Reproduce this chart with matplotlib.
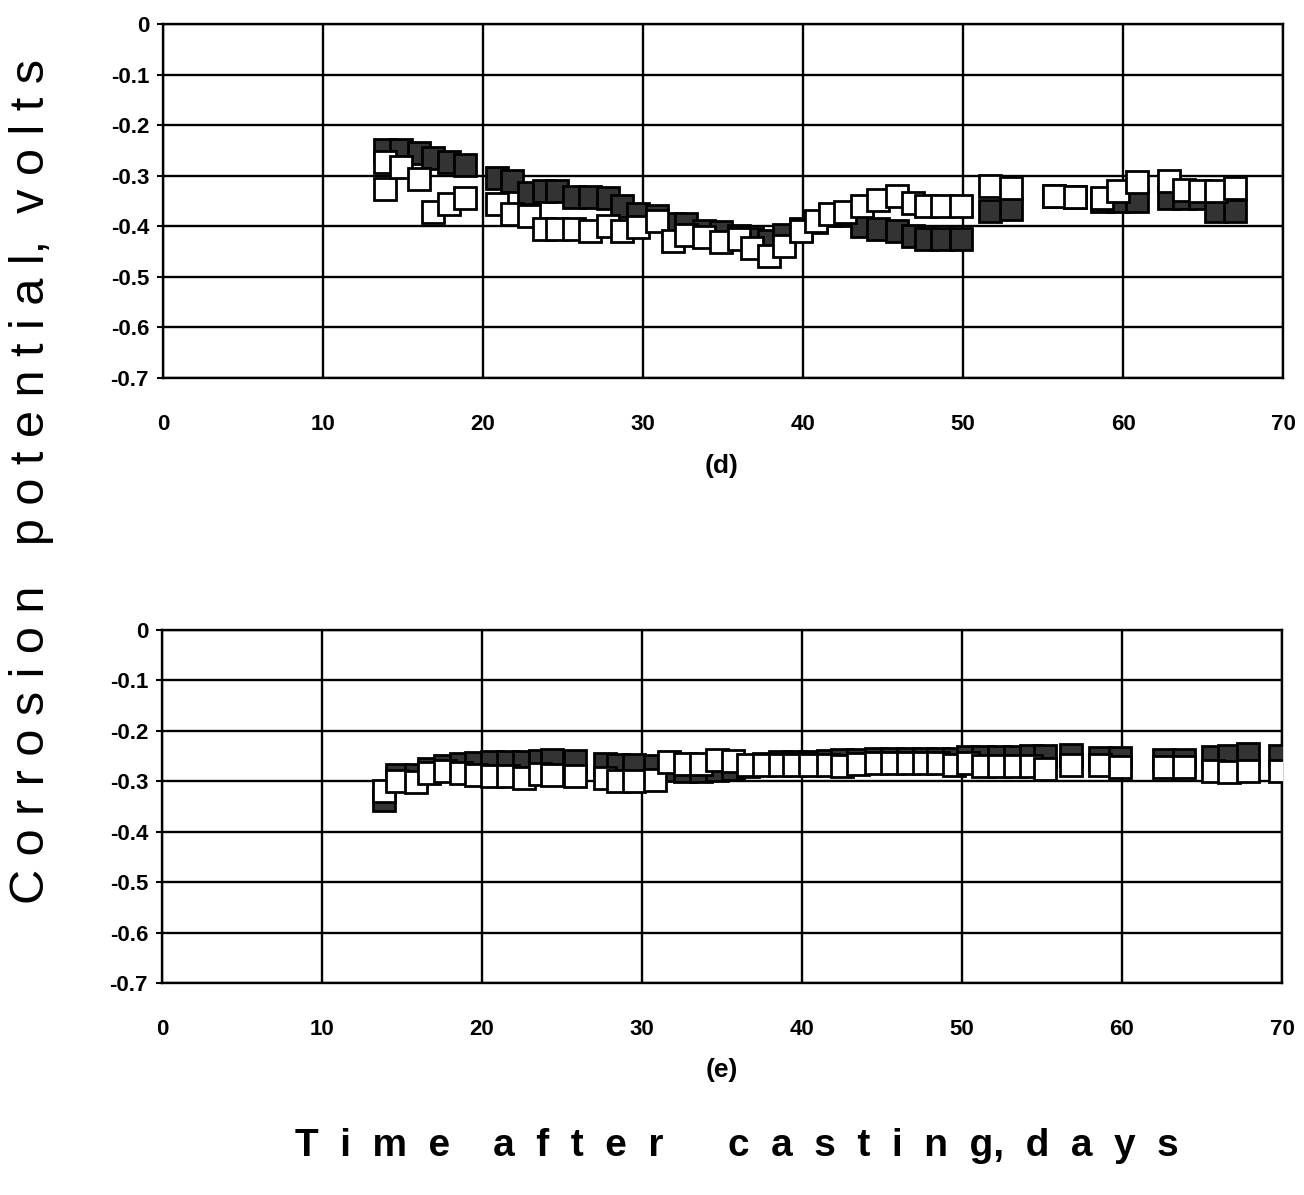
import matplotlib
matplotlib.use("Agg")
import matplotlib.pyplot as plt
from matplotlib import font_manager

# ---------------- data ----------------
# panel (d)
d_open_days = [13.9, 13.9, 14.9, 16.0, 16.9, 17.9, 18.9, 20.9, 21.8, 22.9, 23.8, 24.6,
               25.7, 26.7, 27.8, 28.7, 29.7, 30.9, 31.9, 32.7, 33.8, 34.9, 36.0, 36.8,
               37.9, 38.8, 39.9, 40.8, 41.7, 42.6, 43.7, 44.7, 45.9, 46.9, 47.7, 48.7,
               49.9, 51.7, 53.0, 55.7, 57.0, 58.7, 59.7, 60.9, 62.9, 63.8, 64.8, 65.8, 67.0]
d_open_volts = [-0.326, -0.272, -0.282, -0.307, -0.371, -0.355, -0.345, -0.355, -0.375, -0.380,
                -0.405, -0.405, -0.405, -0.410, -0.400, -0.410, -0.402, -0.390, -0.430, -0.417,
                -0.422, -0.432, -0.425, -0.442, -0.458, -0.438, -0.410, -0.390, -0.375, -0.372,
                -0.360, -0.348, -0.340, -0.353, -0.360, -0.360, -0.360, -0.320, -0.325, -0.340,
                -0.342, -0.345, -0.330, -0.312, -0.310, -0.328, -0.330, -0.330, -0.325]
d_filled_days = [13.9, 14.9, 16.0, 16.9, 17.9, 18.9, 20.9, 21.8, 22.9, 23.8, 24.6, 25.7,
                 26.7, 27.8, 28.7, 29.7, 30.9, 31.9, 32.7, 33.8, 34.9, 36.0, 36.8, 37.9,
                 38.8, 39.9, 40.8, 41.7, 42.6, 43.7, 44.7, 45.9, 46.9, 47.7, 48.7, 49.9,
                 51.7, 53.0, 55.7, 57.0, 58.7, 59.7, 60.9, 62.9, 63.8, 64.8, 65.8, 67.0]
d_filled_volts = [-0.250, -0.250, -0.255, -0.265, -0.272, -0.278, -0.305, -0.310, -0.335, -0.330,
                  -0.330, -0.343, -0.343, -0.345, -0.360, -0.375, -0.380, -0.395, -0.395, -0.410,
                  -0.412, -0.420, -0.425, -0.430, -0.418, -0.405, -0.392, -0.378, -0.378, -0.400,
                  -0.405, -0.410, -0.420, -0.425, -0.425, -0.425, -0.370, -0.365, -0.340, -0.342,
                  -0.350, -0.350, -0.350, -0.345, -0.345, -0.345, -0.370, -0.370]

# panel (e)
e_days = [13.9, 14.7, 15.9, 16.7, 17.7, 18.7, 19.6, 20.6, 21.6, 22.6, 23.6, 24.4, 25.8,
          27.7, 28.5, 29.5, 30.8, 31.7, 32.7, 33.7, 34.7, 35.7, 36.6, 37.6, 38.6, 39.5,
          40.5, 41.6, 42.5, 43.5, 44.6, 45.6, 46.6, 47.6, 48.5, 49.5, 50.4, 51.3, 52.3,
          53.3, 54.3, 55.2, 56.8, 58.6, 59.9, 62.6, 63.9, 65.7, 66.7, 67.9, 69.9]
e_open_volts = [-0.320, -0.300, -0.302, -0.283, -0.280, -0.284, -0.288, -0.290, -0.290, -0.293,
                -0.285, -0.288, -0.290, -0.293, -0.300, -0.300, -0.297, -0.262, -0.265, -0.265,
                -0.258, -0.260, -0.267, -0.267, -0.267, -0.268, -0.268, -0.268, -0.270, -0.266,
                -0.263, -0.263, -0.263, -0.263, -0.263, -0.268, -0.264, -0.270, -0.270, -0.270,
                -0.270, -0.275, -0.268, -0.268, -0.272, -0.272, -0.272, -0.280, -0.282, -0.280,
                -0.280]
e_filled_volts = [-0.338, -0.288, -0.288, -0.275, -0.270, -0.265, -0.263, -0.262, -0.262, -0.262,
                  -0.260, -0.258, -0.260, -0.265, -0.267, -0.267, -0.270, -0.278, -0.280, -0.280,
                  -0.278, -0.275, -0.270, -0.265, -0.262, -0.262, -0.262, -0.260, -0.258, -0.258,
                  -0.256, -0.255, -0.255, -0.255, -0.255, -0.255, -0.252, -0.252, -0.252, -0.252,
                  -0.250, -0.250, -0.248, -0.254, -0.254, -0.258, -0.258, -0.252, -0.250, -0.245,
                  -0.250]

x_ticks = [0, 10, 20, 30, 40, 50, 60, 70]
y_ticks = [0, -0.1, -0.2, -0.3, -0.4, -0.5, -0.6, -0.7]
y_ticklabels = ["0", "-0.1", "-0.2", "-0.3", "-0.4", "-0.5", "-0.6", "-0.7"]
panel_labels = ["(d)", "(e)"]
y_label = "C o r r o s i o n   p o t e n t i a l,  v o l t s"
x_label = "T  i  m  e    a  f  t  e  r      c  a  s  t  i  n  g,  d  a  y  s"

# ---------------- figure ----------------
W, H = 1304, 1195
fig = plt.figure(figsize=(W / 100, H / 100), dpi=100)
plt.rcParams['font.family'] = ['Liberation Sans', 'DejaVu Sans']

names = {f.name for f in font_manager.fontManager.ttflist}
narrow = ['Liberation Sans Narrow', 'Liberation Sans', 'DejaVu Sans'] \
    if 'Liberation Sans Narrow' in names else ['Liberation Sans', 'DejaVu Sans']

ax_d = fig.add_axes([163 / W, 1 - 378 / H, 1120 / W, 354 / H])
ax_e = fig.add_axes([162 / W, 1 - 983 / H, 1120 / W, 353 / H])

dark = '#333333'
ms = 16.5
mew = 2.0

def style(ax):
    ax.set_xlim(0, 70)
    ax.set_ylim(-0.7, 0)
    ax.set_xticks(x_ticks)
    ax.set_xticklabels([str(t) for t in x_ticks], fontsize=16, fontweight='bold')
    ax.set_yticks(y_ticks)
    ax.set_yticklabels(y_ticklabels, fontsize=16, fontweight='bold')
    ax.grid(True, color='black', linewidth=1.7)
    ax.set_axisbelow(True)
    for s in ax.spines.values():
        s.set_linewidth(1.7)
        s.set_color('black')
    ax.tick_params(axis='y', direction='out', length=4, width=1.5, pad=6)
    ax.tick_params(axis='x', direction='out', length=0, width=1.5, pad=26)

for ax, fx, fy, ox, oy in [
    (ax_d, d_filled_days, d_filled_volts, d_open_days, d_open_volts),
    (ax_e, e_days, e_filled_volts, e_days, e_open_volts),
]:
    style(ax)
    ax.plot(fx, fy, linestyle='none', marker='s', markersize=ms,
            markerfacecolor=dark, markeredgecolor='black', markeredgewidth=mew, zorder=3)
    ax.plot(ox, oy, linestyle='none', marker='s', markersize=ms,
            markerfacecolor='white', markeredgecolor='black', markeredgewidth=mew, zorder=4)

fig.text(722 / W, 1 - 466 / H, panel_labels[0], ha='center', va='center',
         fontsize=19, fontweight='bold')
fig.text(722 / W, 1 - 1070 / H, panel_labels[1], ha='center', va='center',
         fontsize=19, fontweight='bold')

fig.text(32 / W, 1 - 482 / H, y_label, rotation=90, ha='center', va='center',
         fontsize=35)
fig.text(737 / W, 1 - 1146 / H, x_label, ha='center', va='center',
         fontsize=28, fontweight='bold', family=narrow)

fig.savefig('out.png', dpi=100, facecolor='white')
